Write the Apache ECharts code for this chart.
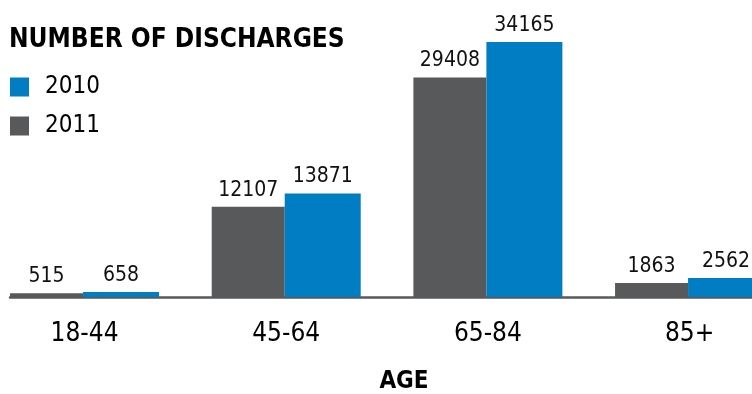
<!DOCTYPE html>
<html>
<head>
<meta charset="utf-8">
<script src="https://cdn.jsdelivr.net/npm/echarts@6/dist/echarts.min.js"></script>
<style>
  html, body { margin: 0; padding: 0; background: #fff; }
  #chart { width: 752px; height: 394px; }
</style>
</head>
<body>
<div id="chart"></div>
<script>
// Hospital discharges by age group
const categories = ['18-44', '45-64', '65-84', '85+'];
const discharges2011 = [515, 12107, 29408, 1863];
const discharges2010 = [658, 13871, 34165, 2562];
const legendNames = ['2010', '2011'];

const FONT = "'DejaVu Sans Condensed', 'Liberation Sans Narrow', 'Arial Narrow', sans-serif";
const GRAY = '#58595b';
const BLUE = '#017dc3';

const chart = echarts.init(document.getElementById('chart'), null, { renderer: 'canvas' });

const valueLabel = {
  show: true,
  position: 'top',
  distance: 6,
  color: '#111',
  fontFamily: FONT,
  fontSize: 21
};

chart.setOption({
  animation: false,
  backgroundColor: '#fff',
  title: [
    {
      text: 'NUMBER OF DISCHARGES',
      left: 9,
      top: 27,
      padding: 0,
      textStyle: { fontFamily: FONT, fontWeight: 'bold', fontSize: 26, color: '#000' }
    },
    {
      text: 'AGE',
      left: 404,
      top: 370,
      padding: 0,
      textAlign: 'center',
      textStyle: { fontFamily: FONT, fontWeight: 'bold', fontSize: 24, color: '#000' }
    }
  ],
  legend: {
    data: legendNames,
    orient: 'vertical',
    left: 10,
    top: 75,
    padding: 0,
    icon: 'rect',
    itemWidth: 19,
    itemHeight: 19,
    itemGap: 15,
    selectedMode: false,
    textStyle: {
      fontFamily: FONT,
      fontSize: 24,
      color: '#000',
      padding: [0, 0, 0, 11]
    }
  },
  grid: [
    { left: -16.3, right: -38.4, top: 28.3, bottom: 97, outerBoundsMode: 'none' },
    { left: 10, right: 0, top: 28.3, bottom: 97, outerBoundsMode: 'none' }
  ],
  xAxis: [
    {
      type: 'category',
      gridIndex: 0,
      data: categories,
      axisLine: { show: false },
      axisTick: { show: false },
      axisLabel: { fontFamily: FONT, fontSize: 26, color: '#000', margin: 24 }
    },
    {
      type: 'value',
      gridIndex: 1,
      min: 0,
      max: 1,
      axisLine: { show: true, lineStyle: { color: GRAY, width: 2.5 } },
      axisTick: { show: false },
      axisLabel: { show: false },
      splitLine: { show: false }
    }
  ],
  yAxis: [
    { type: 'value', gridIndex: 0, min: 0, max: 36000, show: false, splitLine: { show: false } },
    { type: 'value', gridIndex: 1, min: 0, max: 1, show: false, splitLine: { show: false } }
  ],
  series: [
    {
      name: '2011',
      type: 'bar',
      xAxisIndex: 0,
      yAxisIndex: 0,
      data: discharges2011,
      barWidth: 73,
      barGap: '0%',
      itemStyle: { color: GRAY },
      label: valueLabel,
      z: 3
    },
    {
      name: '2010',
      type: 'bar',
      xAxisIndex: 0,
      yAxisIndex: 0,
      data: discharges2010,
      barWidth: 76,
      barGap: '0%',
      itemStyle: { color: BLUE },
      label: valueLabel,
      z: 3
    }
  ]
});
</script>
</body>
</html>
